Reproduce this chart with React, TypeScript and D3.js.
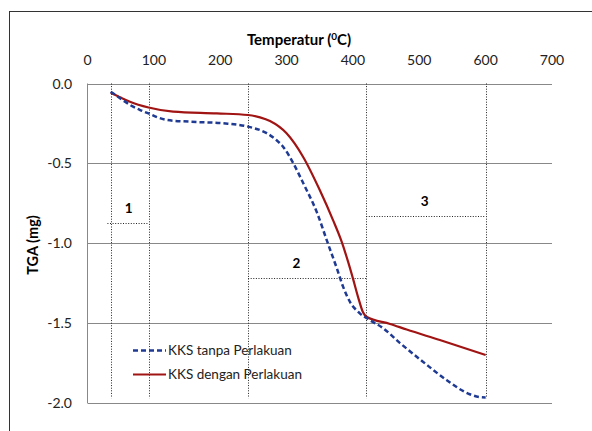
import React from "react";
import * as d3 from "d3";

const xTicks = [0, 100, 200, 300, 400, 500, 600, 700];
const yTicks = [0, -0.5, -1.0, -1.5, -2.0];

const blueT = [35, 50, 64, 78, 91, 119, 154, 204, 242, 270, 285, 295, 310, 325, 346, 362, 376, 385, 396, 410, 425, 445, 471, 505, 541, 576, 590, 600];
const blueV = [-0.051, -0.095, -0.134, -0.163, -0.186, -0.228, -0.239, -0.249, -0.27, -0.311, -0.355, -0.397, -0.498, -0.623, -0.81, -0.998, -1.16, -1.27, -1.37, -1.437, -1.48, -1.53, -1.625, -1.74, -1.856, -1.945, -1.962, -1.965];

const redT = [35, 50, 64, 92, 129, 195, 242, 260, 275, 300, 325, 350, 370, 383, 393, 400, 408, 415, 421, 456, 481, 531, 600];
const redV = [-0.058, -0.088, -0.114, -0.15, -0.176, -0.187, -0.197, -0.212, -0.235, -0.312, -0.46, -0.667, -0.855, -0.99, -1.12, -1.22, -1.34, -1.43, -1.462, -1.505, -1.54, -1.606, -1.7];

const stageLinesT = [35, 92, 242, 420, 600];
const stageFrom = [30, 242, 420];
const stageTo = [92, 420, 600];
const stageLevel = [-0.875, -1.22, -0.83];
const stageLabelT = [62, 315, 508];
const stageLabels = ["1", "2", "3"];

const seriesNames = ["KKS tanpa Perlakuan", "KKS dengan Perlakuan"];

const W = 592, H = 431;
const FONT = "Lato, 'Open Sans', sans-serif";

export default function App() {
  const x = d3.scaleLinear().domain([0, 700]).range([87.5, 552]);
  const y = d3.scaleLinear().domain([0, -2]).range([83.5, 403]);
  const fmt = (v: number) => d3.format(".1f")(v).replace("\u2212", "-");
  const line = d3
    .line<[number, number]>()
    .x((d) => x(d[0]))
    .y((d) => y(d[1]))
    .curve(d3.curveMonotoneX);
  const blue = line(blueT.map((t, i) => [t, blueV[i]] as [number, number])) || "";
  const red = line(redT.map((t, i) => [t, redV[i]] as [number, number])) || "";
  const blueColor = "#1f3a93";
  const redColor = "#a01414";
  const dot = "1,1.6";
  return (
    <svg width={W} height={H} style={{ position: "absolute", left: 0, top: 0, background: "#fff" }} fontFamily={FONT}>
      <rect x={9.5} y={11.5} width={620} height={460} fill="#fff" stroke="#333" strokeWidth={1} />
      {/* axis title */}
      <text x={299} y={45} textAnchor="middle" fontWeight="bold" fontSize={15} fill="#000">
        Temperatur (<tspan fontSize={10} dy={-5}>0</tspan><tspan dy={5}>C)</tspan>
      </text>
      {xTicks.map((t) => (
        <text key={t} x={x(t)} y={65} textAnchor="middle" fontSize={14} fill="#222">
          {t}
        </text>
      ))}
      {yTicks.map((v) => (
        <text key={v} x={72} y={y(v) + 5} textAnchor="end" fontSize={14} fill="#222">
          {fmt(v)}
        </text>
      ))}
      <text transform={`translate(38,245) rotate(-90)`} textAnchor="middle" fontWeight="bold" fontSize={14.5} fill="#000">
        TGA (mg)
      </text>
      {/* gridlines */}
      {yTicks.map((v) => (
        <line key={v} x1={x(0)} x2={x(700)} y1={Math.round(y(v)) + 0.5} y2={Math.round(y(v)) + 0.5} stroke="#888" strokeWidth={1} />
      ))}
      <line x1={x(0)} x2={x(0)} y1={y(0)} y2={y(-2)} stroke="#888" strokeWidth={1} />
      {/* stage dotted lines */}
      {stageLinesT.map((t) => (
        <line key={t} x1={Math.round(x(t)) + 0.5} x2={Math.round(x(t)) + 0.5} y1={y(0)} y2={y(-1.97)} stroke="#222" strokeWidth={1} strokeDasharray={dot} />
      ))}
      {stageLabels.map((s, i) => (
        <g key={s}>
          <line x1={x(stageFrom[i])} x2={x(stageTo[i])} y1={Math.round(y(stageLevel[i])) + 0.5} y2={Math.round(y(stageLevel[i])) + 0.5} stroke="#222" strokeWidth={1} strokeDasharray={dot} />
          <text x={x(stageLabelT[i])} y={y(stageLevel[i]) - 10} textAnchor="middle" fontWeight="bold" fontSize={13.5} fill="#000">
            {s}
          </text>
        </g>
      ))}
      {/* series */}
      <path d={red} fill="none" stroke={redColor} strokeWidth={2.2} />
      <path d={blue} fill="none" stroke={blueColor} strokeWidth={2.5} strokeDasharray="5,3" />
      {/* legend */}
      <line x1={133} x2={166} y1={350.5} y2={350.5} stroke={blueColor} strokeWidth={2.5} strokeDasharray="5,3" />
      <text x={168} y={355} fontSize={13.5} fill="#222">{seriesNames[0]}</text>
      <line x1={133} x2={166} y1={374.5} y2={374.5} stroke={redColor} strokeWidth={2.2} />
      <text x={168} y={379} fontSize={13.5} fill="#222">{seriesNames[1]}</text>
    </svg>
  );
}
